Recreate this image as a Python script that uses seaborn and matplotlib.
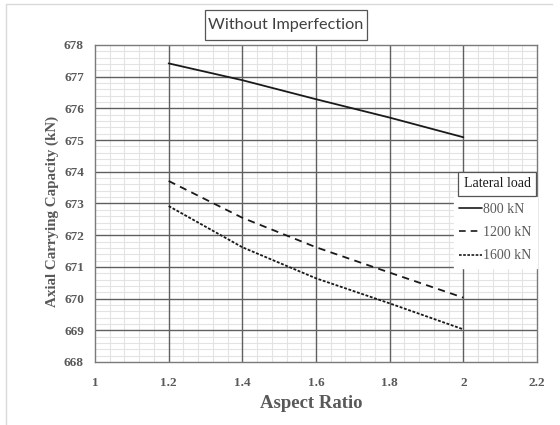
import numpy as np
import pandas as pd
import matplotlib
matplotlib.use("Agg")
import matplotlib.pyplot as plt
from matplotlib.ticker import MultipleLocator, FixedLocator
from matplotlib.lines import Line2D
from matplotlib.patches import Rectangle
import seaborn as sns

# Axial carrying capacity vs aspect ratio for three lateral loads
aspect_ratio = [1.2, 1.4, 1.6, 1.8, 2.0]
load_labels = ["800 kN", "1200 kN", "1600 kN"]
cap_800 = [677.42, 676.89, 676.29, 675.71, 675.09]
cap_1200 = [673.71, 672.55, 671.62, 670.82, 670.03]
cap_1600 = [672.92, 671.62, 670.64, 669.85, 669.03]
x_ticks = [1, 1.2, 1.4, 1.6, 1.8, 2, 2.2]
x_ticklabels = ["1", "1.2", "1.4", "1.6", "1.8", "2", "2.2"]

df = pd.DataFrame({
    "Aspect Ratio": aspect_ratio * 3,
    "Capacity": cap_800 + cap_1200 + cap_1600,
    "Lateral load": sum([[l] * len(aspect_ratio) for l in load_labels], []),
})

sns.set_theme(style="white")
plt.rcParams["font.family"] = ["Liberation Serif", "DejaVu Serif"]

W, H = 560, 425
fig = plt.figure(figsize=(W / 100, H / 100), dpi=100)
ax = fig.add_axes([95 / W, 1 - 362 / H, (537 - 95) / W, (362 - 45) / H])

text_col = "#595959"
dash_styles = {"800 kN": "", "1200 kN": (4, 3), "1600 kN": (1.6, 0.9)}
sns.lineplot(data=df, x="Aspect Ratio", y="Capacity", hue="Lateral load",
             style="Lateral load", dashes=dash_styles,
             palette=["#1a1a1a"] * 3, linewidth=1.3, legend=False, ax=ax,
             zorder=3)

ax.set_xlim(1, 2.2)
ax.set_ylim(668, 678)
ax.set_xticks(x_ticks)
ax.set_xticklabels(x_ticklabels)
ax.yaxis.set_major_locator(MultipleLocator(1))

# light minor grid (skipping major positions), darker major grid on top
x_minor = [v for v in np.round(np.arange(1, 2.2001, 0.04), 2) if round(v / 0.2, 6) % 1 != 0]
y_minor = [v for v in np.round(np.arange(668, 678.001, 0.2), 1) if v % 1 != 0]
ax.xaxis.set_minor_locator(FixedLocator(x_minor))
ax.yaxis.set_minor_locator(FixedLocator(y_minor))
ax.grid(which="minor", color="#e3e3e3", linewidth=0.8)
ax.grid(which="major", visible=False)
ax.set_axisbelow(True)
for xv in x_ticks[1:-1]:
    ax.axvline(xv, color="#5f5f5f", linewidth=1.0, zorder=0.8)
for yv in range(669, 678):
    ax.axhline(yv, color="#5f5f5f", linewidth=1.0, zorder=0.8)

for s in ax.spines.values():
    s.set_color("#7a7a7a")
    s.set_linewidth(1.0)
ax.tick_params(which="both", length=0)
ax.tick_params(axis="x", pad=11, labelsize=9.5, labelcolor=text_col)
ax.tick_params(axis="y", pad=8, labelsize=9.5, labelcolor=text_col)
for lab in ax.get_xticklabels() + ax.get_yticklabels():
    lab.set_fontweight("bold")

ax.set_xlabel("Aspect Ratio", fontsize=13.5, fontweight="bold", color=text_col)
ax.set_ylabel("Axial Carrying Capacity (kN)", fontsize=10.8, fontweight="bold",
              color=text_col)
ax.xaxis.set_label_coords(0.489, -0.103)
ax.yaxis.set_label_coords(-0.097, 0.475)
ax.yaxis.label.set_va("center")

# Chart title in a boxed label
fig.add_artist(Rectangle((205 / W, 1 - 40 / H), (367 - 205) / W, 30 / H,
                         transform=fig.transFigure, facecolor="white",
                         edgecolor="#555555", lw=0.9))
fig.text(286 / W, 1 - 25.5 / H, "Without Imperfection", ha="center", va="center",
         fontsize=11.7, color="#404040", family=["Lato", "DejaVu Sans"])

# Legend: boxed title above plain entries
handles = [Line2D([], [], color="#1a1a1a", lw=1.2, linestyle="-"),
           Line2D([], [], color="#1a1a1a", lw=1.2, dashes=dash_styles["1200 kN"]),
           Line2D([], [], color="#1a1a1a", lw=1.2, dashes=dash_styles["1600 kN"])]
leg = ax.legend(handles, load_labels, loc="upper right",
                bbox_to_anchor=(537 / W, 1 - 197 / H), bbox_transform=fig.transFigure,
                frameon=True, fancybox=False, framealpha=1, facecolor="white",
                edgecolor="white", fontsize=10, handlelength=1.6, handletextpad=0.1,
                labelspacing=0.75, borderpad=0.4, borderaxespad=0)
for t in leg.get_texts():
    t.set_color(text_col)
leg.set_zorder(5)
fig.text(497 / W, 1 - 184 / H, "Lateral load", ha="center", va="center",
         fontsize=10, color="#1a1a1a",
         bbox=dict(boxstyle="square,pad=0.4", fc="white", ec="#555555", lw=0.9),
         zorder=6)

# Light outer frame of the chart area
fig.add_artist(Line2D([6 / W, 6 / W], [0, 1 - 4 / H], transform=fig.transFigure,
                      color="#d9d9d9", lw=1))
fig.add_artist(Line2D([6 / W, 552 / W], [1 - 4 / H, 1 - 4 / H], transform=fig.transFigure,
                      color="#d9d9d9", lw=1))

fig.savefig("out.png", dpi=100, facecolor="white")
